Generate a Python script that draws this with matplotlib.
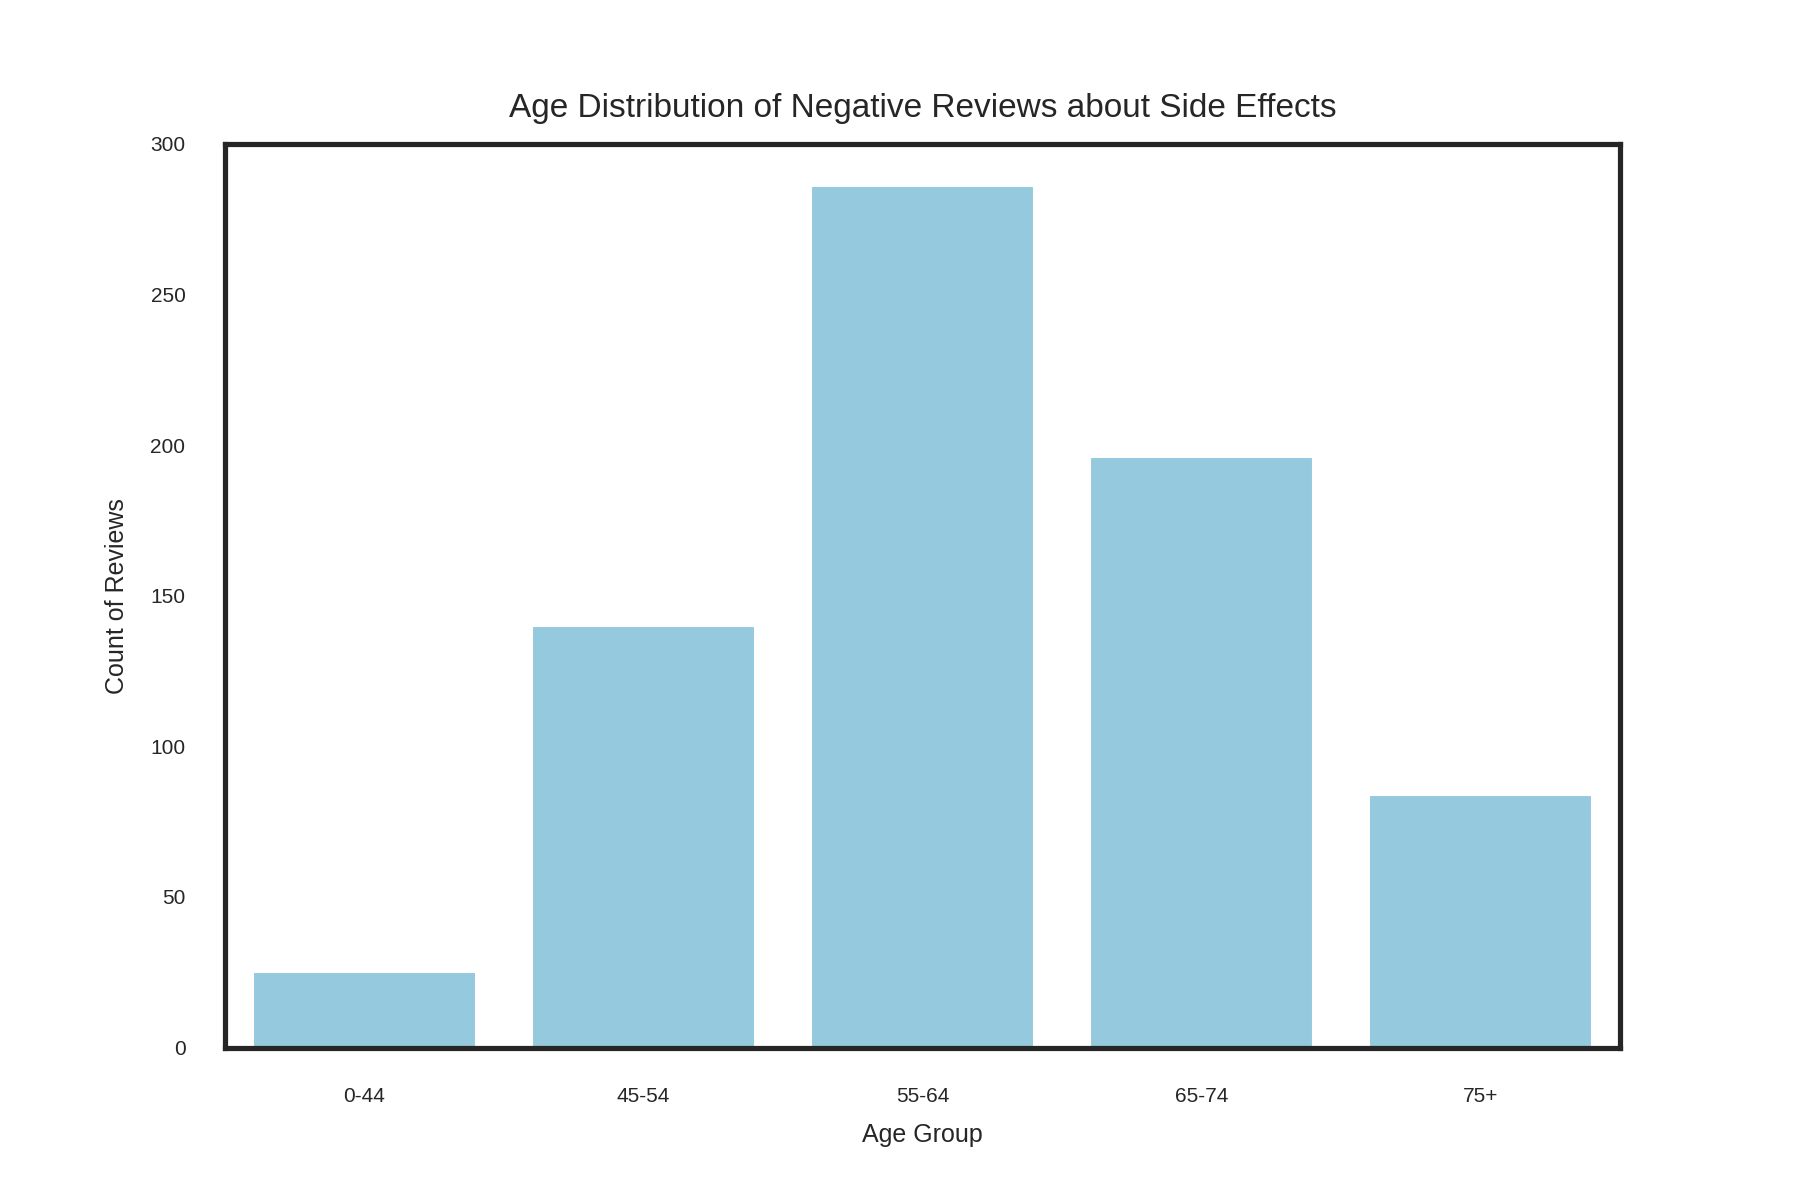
import matplotlib
matplotlib.use("Agg")
import matplotlib.pyplot as plt
import seaborn as sns
import pandas as pd

# === DATA ===
age_groups = ['0-44', '45-54', '55-64', '65-74', '75+']
review_counts = [25, 140, 286, 196, 84]

df = pd.DataFrame({'Age Group': age_groups, 'Count': review_counts})

# === STYLE ===
sns.set_style('white')
plt.rcParams['font.family'] = ['Liberation Sans', 'DejaVu Sans']

fig, ax = plt.subplots(figsize=(12, 8), dpi=150)
fig.subplots_adjust(left=0.125, right=0.9, bottom=0.127, top=0.88)

sns.barplot(data=df, x='Age Group', y='Count', color='skyblue', ax=ax)

ax.set_ylim(0, 300)
ax.set_title('Age Distribution of Negative Reviews about Side Effects', fontsize=16, pad=13)
ax.set_xlabel('Age Group', fontsize=12, labelpad=8)
ax.set_ylabel('Count of Reviews', fontsize=12, labelpad=10)
ax.tick_params(axis='both', length=0, pad=19, labelsize=10)

for side in ax.spines.values():
    side.set_linewidth(2.5)
    side.set_color('#262626')

fig.savefig('out.png', dpi=150)
